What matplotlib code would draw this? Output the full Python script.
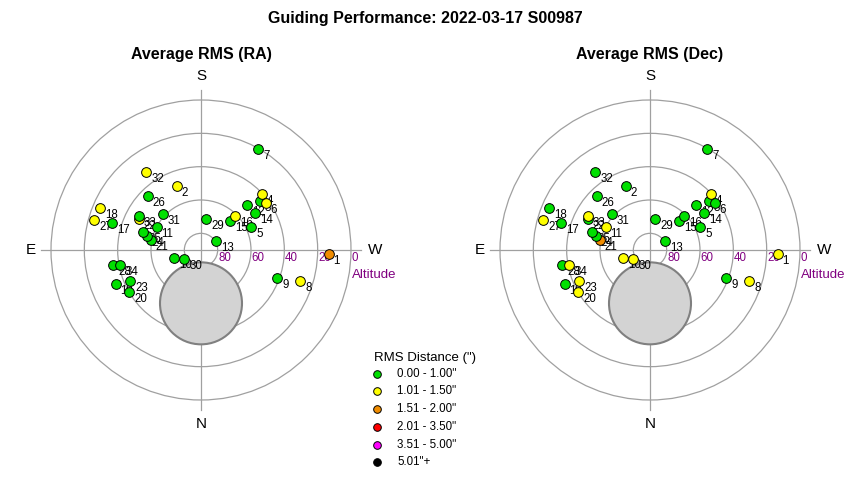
import numpy as np
import matplotlib
matplotlib.use("Agg")
import matplotlib.pyplot as plt
from matplotlib.patches import Circle

plt.rcParams['font.family'] = ['Liberation Sans', 'DejaVu Sans']

title = "Guiding Performance: 2022-03-17 S00987"
panel_titles = ["Average RMS (RA)", "Average RMS (Dec)"]

# pointing numbers, altitude / azimuth (deg, az from N through E)
point_ids = list(range(1, 35))
altitude = [13.3, 49.2, 43.9, 40.2, 56.7, 42.1, 20.5, 27.5, 41.2, 73.2,
            60.1, 51.4, 79.5, 50.5, 65.3, 61.0, 34.4, 24.6, 34.8, 40.2,
            59.1, 48.5, 43.6, 56.5, 53.8, 44.7, 23.5, 36.6, 71.3, 78.5,
            58.3, 33.0, 47.6, 40.8]
azimuth = [271.9, 159.4, 230.4, 227.6, 245.1, 234.2, 209.6, 287.5, 290.3, 72.7,
           117.1, 226.0, 240.9, 235.5, 225.3, 225.3, 106.8, 112.5, 68.1, 59.8,
           101.7, 116.3, 66.1, 104.8, 107.1, 135.4, 105.7, 80.1, 189.8, 60.9,
           133.5, 144.9, 118.7, 79.7]

# RMS bin index per pointing
ra_bin = [2, 1, 0, 1, 0, 1, 0, 1, 0, 0,
          0, 0, 0, 0, 0, 1, 0, 1, 0, 0,
          0, 1, 0, 0, 0, 0, 1, 0, 0, 0,
          0, 1, 0, 0]
dec_bin = [1, 0, 0, 1, 0, 0, 0, 1, 0, 1,
           1, 0, 0, 0, 0, 0, 0, 0, 0, 1,
           2, 0, 1, 0, 0, 0, 1, 0, 0, 1,
           0, 0, 1, 1]

bin_labels = ['0.00 - 1.00"', '1.01 - 1.50"', '1.51 - 2.00"',
              '2.01 - 3.50"', '3.51 - 5.00"', '5.01"+']
bin_colors = ['#00e000', '#ffff00', '#f08c00', '#ff0000', '#ff00ff', '#000000']

ring_alts = [80, 60, 40, 20, 0]

# blocked area (alt/az of centre, radius in deg)
block_alt, block_az, block_rad = 58.0, 0.0, 24.6


def to_xy(alt, az):
    zd = 90.0 - np.asarray(alt)
    a = np.radians(np.asarray(az))
    # south up, west right
    return -zd * np.sin(a), -zd * np.cos(a)


W, H = 850, 480
fig = plt.figure(figsize=(8.5, 4.8), dpi=100)
fig.text(0.5, 1 - 18 / H, title, ha='center', va='center',
         fontsize=11.5, fontweight='bold')

half = 110.0
px = 150.0 / 90.0
size = 2 * half * px
centres = [201, 650]
xs, ys = to_xy(altitude, azimuth)

for cx, ptitle, bins in zip(centres, panel_titles, [ra_bin, dec_bin]):
    ax = fig.add_axes([(cx - size / 2) / W, (H - 250 - size / 2) / H, size / W, size / H])
    ax.set_xlim(-half, half)
    ax.set_ylim(-half, half)
    ax.set_aspect('equal')
    ax.axis('off')
    fig.text(cx / W, 1 - 55 / H, ptitle, ha='center', va='center',
             fontsize=11.5, fontweight='bold')

    for alt in ring_alts:
        ax.add_patch(Circle((0, 0), 90 - alt, fill=False, ec='#a0a0a0', lw=0.9, zorder=1))
        ax.text(90 - alt + 0.5, -4.6, str(alt), color='#800080', fontsize=8.3,
                ha='left', va='center', zorder=3)
    ax.plot([-96, 96], [0, 0], color='#a0a0a0', lw=0.9, zorder=1)
    ax.plot([0, 0], [-96, 96], color='#a0a0a0', lw=0.9, zorder=1)
    ax.text(90.5, -15, 'Altitude', color='#800080', fontsize=9.5, ha='left', va='center')

    ax.text(0, 100, 'S', fontsize=11, ha='center', va='bottom')
    ax.text(0, -100, 'N', fontsize=11, ha='center', va='top')
    ax.text(-99, 0, 'E', fontsize=11, ha='right', va='center')
    ax.text(100, 0, 'W', fontsize=11, ha='left', va='center')

    bx, by = to_xy(block_alt, block_az)
    ax.add_patch(Circle((bx, by), block_rad, fc='#d3d3d3', ec='#808080', lw=1.5, zorder=2))

    for i, pid in enumerate(point_ids):
        ax.plot(xs[i], ys[i], 'o', ms=7, mfc=bin_colors[bins[i]], mec='black',
                mew=0.7, zorder=4 + i * 0.01)
        ax.annotate(str(pid), (xs[i], ys[i]), xytext=(3.5, -5), textcoords='offset points',
                    fontsize=8.3, ha='left', va='center', zorder=3)

# legend, laid out in figure pixels
lax = fig.add_axes([0, 0, 1, 1])
lax.set_xlim(0, W)
lax.set_ylim(H, 0)
lax.axis('off')
lax.text(374, 358, 'RMS Distance (")', fontsize=9.5, ha='left', va='center')
for i, (lab, col) in enumerate(zip(bin_labels, bin_colors)):
    yy = 373.7 + 17.7 * i
    lax.plot(377, yy, 'o', ms=5.5, mfc=col, mec='black', mew=0.7)
    lax.text(397, yy, lab, fontsize=8.3, ha='left', va='center')

fig.savefig('out.png', dpi=100)
